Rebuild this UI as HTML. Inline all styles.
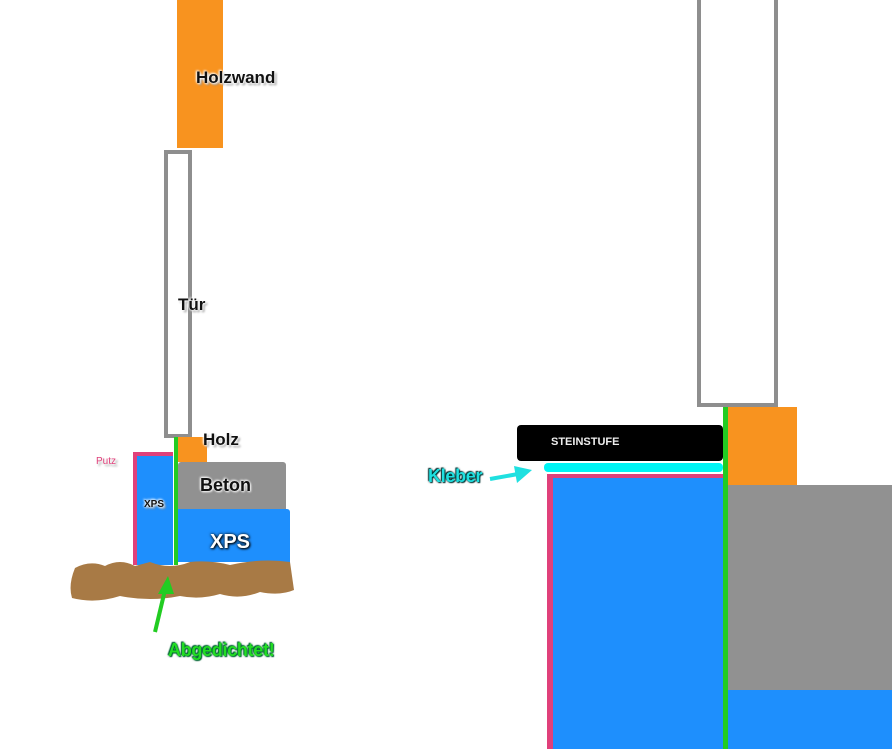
<!DOCTYPE html>
<html><head><style>
body{margin:0;width:892px;height:749px;background:#fff;position:relative;overflow:hidden;font-family:"Liberation Sans",sans-serif}
.a{position:absolute}
.lbl{position:absolute;font-weight:bold;color:#111;text-shadow:0 0 2px #fff,1px 1px 2px #fff,-1px -1px 2px #fff,2px 2px 2px #888}
</style></head><body>
<div class="a" style="left:177px;top:0;width:46px;height:148px;background:#f8931f"></div>
<div class="lbl" style="left:196px;top:68px;font-size:17px">Holzwand</div>
<div class="a" style="left:164px;top:150px;width:20px;height:280px;border:4px solid #8e8e8e;background:#fff"></div>
<div class="lbl" style="left:178px;top:295px;font-size:17px">Tür</div>
<div class="a" style="left:178px;top:437px;width:29px;height:25px;background:#f8931f"></div>
<div class="lbl" style="left:203px;top:430px;font-size:17px">Holz</div>
<div class="a" style="left:133px;top:452px;width:40px;height:113px;background:#e0407a"></div>
<div class="a" style="left:137px;top:456px;width:36px;height:109px;background:#1e8ffd"></div>
<div class="lbl" style="left:144px;top:499px;font-size:10px">XPS</div>
<div class="lbl" style="left:96px;top:456px;font-size:10px;color:#e0407a;font-weight:normal">Putz</div>
<div class="a" style="left:174px;top:437px;width:4px;height:128px;background:#22cc22"></div>
<div class="a" style="left:178px;top:462px;width:108px;height:47px;background:#919191;border-radius:3px 3px 0 0"></div>
<div class="lbl" style="left:200px;top:475px;font-size:18px">Beton</div>
<div class="a" style="left:178px;top:509px;width:112px;height:53px;background:#1e8ffd;border-radius:0 3px 0 0"></div>
<div class="lbl" style="left:210px;top:531px;font-size:20px;color:#fff;text-shadow:0 0 3px #000,1px 1px 2px #000">XPS</div>
<svg class="a" style="left:0;top:0" width="892" height="749">
<path d="M75 568 Q90 560 105 566 Q120 558 135 566 L150 562 Q170 570 190 562 Q210 560 230 565 Q260 558 290 562 L294 590 Q280 596 260 592 Q240 600 220 594 Q200 600 180 596 Q150 602 120 596 Q95 604 72 598 Q68 585 75 568Z" fill="#a87a45"/>
<line x1="155" y1="632" x2="165" y2="590" stroke="#22cc22" stroke-width="4"/>
<polygon points="168,576 158,594 174,594" fill="#22cc22"/>
<line x1="490" y1="479" x2="518" y2="474" stroke="#1fe0e0" stroke-width="4"/>
<polygon points="532,470 514,466 517,483" fill="#1fe0e0"/>
</svg>
<div class="lbl" style="left:168px;top:640px;font-size:18px;letter-spacing:-0.3px;color:#22dd22;text-shadow:0 0 2px #063,1px 1px 1px #063,-1px -1px 1px #063">Abgedichtet!</div>
<div class="a" style="left:697px;top:0;width:73px;height:403px;border:4px solid #8e8e8e;border-top:none;background:#fff"></div>
<div class="a" style="left:728px;top:407px;width:69px;height:78px;background:#f8931f"></div>
<div class="a" style="left:728px;top:485px;width:164px;height:205px;background:#919191"></div>
<div class="a" style="left:728px;top:690px;width:164px;height:59px;background:#1e8ffd"></div>
<div class="a" style="left:517px;top:425px;width:206px;height:36px;background:#000;border-radius:4px"></div>
<div class="a" style="left:551px;top:436px;font-size:11px;font-weight:bold;color:#eee">STEINSTUFE</div>
<div class="a" style="left:544px;top:463px;width:179px;height:9px;background:#00f5f5;border-radius:4px"></div>
<div class="a" style="left:547px;top:474px;width:176px;height:275px;background:#e0407a"></div>
<div class="a" style="left:553px;top:478px;width:170px;height:271px;background:#1e8ffd"></div>
<div class="a" style="left:723px;top:407px;width:5px;height:342px;background:#22cc22"></div>
<div class="lbl" style="left:428px;top:466px;font-size:18px;letter-spacing:-0.3px;color:#1fe0e0;text-shadow:0 0 2px #033,1px 1px 1px #033,-1px -1px 1px #033">Kleber</div>
</body></html>
